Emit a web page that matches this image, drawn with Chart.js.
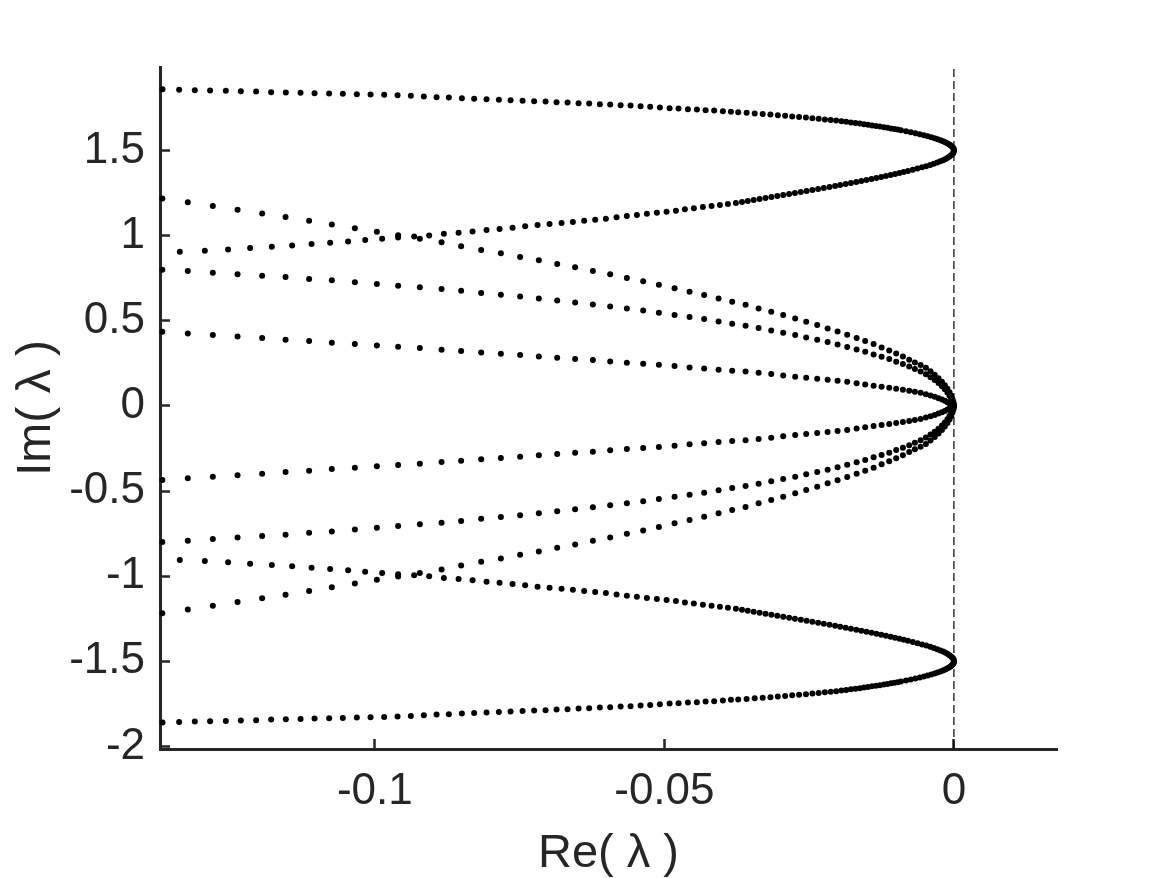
<!DOCTYPE html>
<html>
<head>
<meta charset="utf-8">
<script src="https://cdn.jsdelivr.net/npm/chart.js@4.4.1/dist/chart.umd.min.js"></script>
<style>
  html, body { margin: 0; padding: 0; background: #fff; }
  #wrap { width: 1169px; height: 878px; }
</style>
</head>
<body>
<div id="wrap"><canvas id="spectrum" width="1169" height="878"></canvas></div>
<script>
// axis limits and ticks
const xLimits = [-0.1371, 0.0178];
const yLimits = [-2.015, 1.99];
const xTicks = [-0.1, -0.05, 0];
const yTicks = [-2, -1.5, -1, -0.5, 0, 0.5, 1, 1.5];

// fan of three branches meeting at the origin (shared real parts)
const reFan = [
  -0.13670, -0.13230, -0.12798, -0.12371, -0.11946, -0.11542, -0.11135, -0.10743, -0.10345, -0.09965,
  -0.09598, -0.09223, -0.08848, -0.08510, -0.08164, -0.07824, -0.07491, -0.07168, -0.06851, -0.06541,
  -0.06235, -0.05936, -0.05648, -0.05366, -0.05095, -0.04824, -0.04565, -0.04313, -0.04064, -0.03829,
  -0.03598, -0.03373, -0.03155, -0.02948, -0.02741, -0.02551, -0.02361, -0.02181, -0.02009, -0.01843,
  -0.01680, -0.01532, -0.01387, -0.01249, -0.01117, -0.00997, -0.00881, -0.00772, -0.00674, -0.00575,
  -0.00484, -0.00404, -0.00332, -0.00266, -0.00207, -0.00157, -0.00112, -0.00076, -0.00047, -0.00024,
  -0.00009, -0.00002
];
const imFan1Up = [
  1.2176, 1.1959, 1.1735, 1.1512, 1.1294, 1.1088, 1.0865, 1.0647, 1.0429, 1.0218,
  1.0018, 0.9812, 0.9606, 0.9371, 0.9159, 0.8959, 0.8747, 0.8547, 0.8335, 0.8135,
  0.7924, 0.7724, 0.7512, 0.7312, 0.7118, 0.6900, 0.6706, 0.6512, 0.6312, 0.6118,
  0.5941, 0.5724, 0.5529, 0.5335, 0.5135, 0.4941, 0.4747, 0.4547, 0.4371, 0.4176,
  0.3982, 0.3806, 0.3629, 0.3429, 0.3253, 0.3076, 0.2900, 0.2706, 0.2547, 0.2394,
  0.2235, 0.2029, 0.1824, 0.1618, 0.1412, 0.1206, 0.1000, 0.0794, 0.0588, 0.0382,
  0.0206, 0.0059
];
const imFan2Up = [
  0.8000, 0.7924, 0.7824, 0.7724, 0.7647, 0.7571, 0.7453, 0.7371, 0.7253, 0.7159,
  0.7059, 0.6959, 0.6865, 0.6765, 0.6629, 0.6529, 0.6429, 0.6312, 0.6194, 0.6076,
  0.5959, 0.5841, 0.5724, 0.5606, 0.5471, 0.5335, 0.5218, 0.5100, 0.4959, 0.4824,
  0.4706, 0.4571, 0.4429, 0.4294, 0.4159, 0.4018, 0.3882, 0.3747, 0.3606, 0.3453,
  0.3312, 0.3176, 0.3018, 0.2882, 0.2747, 0.2588, 0.2453, 0.2312, 0.2165, 0.2012,
  0.1853, 0.1688, 0.1518, 0.1341, 0.1159, 0.0976, 0.0788, 0.0600, 0.0424, 0.0259,
  0.0129, 0.0029
];
const imFan3Up = [
  0.4353, 0.4253, 0.4159, 0.4076, 0.3982, 0.3882, 0.3806, 0.3706, 0.3629, 0.3547,
  0.3471, 0.3394, 0.3294, 0.3218, 0.3135, 0.3059, 0.2982, 0.2900, 0.2824, 0.2747,
  0.2688, 0.2606, 0.2529, 0.2471, 0.2412, 0.2335, 0.2253, 0.2194, 0.2118, 0.2059,
  0.2018, 0.1941, 0.1865, 0.1782, 0.1706, 0.1647, 0.1588, 0.1529, 0.1471, 0.1412,
  0.1335, 0.1253, 0.1176, 0.1118, 0.1059, 0.1000, 0.0941, 0.0882, 0.0824, 0.0765,
  0.0688, 0.0606, 0.0529, 0.0453, 0.0371, 0.0294, 0.0218, 0.0159, 0.0100, 0.0059,
  0.0024, 0.0006
];
const imFan1Down = [
  -1.2176, -1.1959, -1.1735, -1.1512, -1.1294, -1.1088, -1.0865, -1.0647, -1.0429, -1.0218,
  -1.0018, -0.9812, -0.9606, -0.9371, -0.9159, -0.8959, -0.8747, -0.8547, -0.8335, -0.8135,
  -0.7924, -0.7724, -0.7512, -0.7312, -0.7118, -0.6900, -0.6706, -0.6512, -0.6312, -0.6118,
  -0.5941, -0.5724, -0.5529, -0.5335, -0.5135, -0.4941, -0.4747, -0.4547, -0.4371, -0.4176,
  -0.3982, -0.3806, -0.3629, -0.3429, -0.3253, -0.3076, -0.2900, -0.2706, -0.2547, -0.2394,
  -0.2235, -0.2029, -0.1824, -0.1618, -0.1412, -0.1206, -0.1000, -0.0794, -0.0588, -0.0382,
  -0.0206, -0.0059
];
const imFan2Down = [
  -0.8000, -0.7924, -0.7824, -0.7724, -0.7647, -0.7571, -0.7453, -0.7371, -0.7253, -0.7159,
  -0.7059, -0.6959, -0.6865, -0.6765, -0.6629, -0.6529, -0.6429, -0.6312, -0.6194, -0.6076,
  -0.5959, -0.5841, -0.5724, -0.5606, -0.5471, -0.5335, -0.5218, -0.5100, -0.4959, -0.4824,
  -0.4706, -0.4571, -0.4429, -0.4294, -0.4159, -0.4018, -0.3882, -0.3747, -0.3606, -0.3453,
  -0.3312, -0.3176, -0.3018, -0.2882, -0.2747, -0.2588, -0.2453, -0.2312, -0.2165, -0.2012,
  -0.1853, -0.1688, -0.1518, -0.1341, -0.1159, -0.0976, -0.0788, -0.0600, -0.0424, -0.0259,
  -0.0129, -0.0029
];
const imFan3Down = [
  -0.4353, -0.4253, -0.4159, -0.4076, -0.3982, -0.3882, -0.3806, -0.3706, -0.3629, -0.3547,
  -0.3471, -0.3394, -0.3294, -0.3218, -0.3135, -0.3059, -0.2982, -0.2900, -0.2824, -0.2747,
  -0.2688, -0.2606, -0.2529, -0.2471, -0.2412, -0.2335, -0.2253, -0.2194, -0.2118, -0.2059,
  -0.2018, -0.1941, -0.1865, -0.1782, -0.1706, -0.1647, -0.1588, -0.1529, -0.1471, -0.1412,
  -0.1335, -0.1253, -0.1176, -0.1118, -0.1059, -0.1000, -0.0941, -0.0882, -0.0824, -0.0765,
  -0.0688, -0.0606, -0.0529, -0.0453, -0.0371, -0.0294, -0.0218, -0.0159, -0.0100, -0.0059,
  -0.0024, -0.0006
];

// loops around +/-1.5i: outer arm (|Im| > 1.5) and inner arm (|Im| < 1.5)
const reOuter = [
  -0.13667, -0.13380, -0.13109, -0.12845, -0.12573, -0.12314, -0.12050, -0.11791, -0.11537, -0.11283,
  -0.11041, -0.10789, -0.10553, -0.10311, -0.10074, -0.09839, -0.09608, -0.09378, -0.09154, -0.08934,
  -0.08722, -0.08497, -0.08285, -0.08071, -0.07858, -0.07656, -0.07449, -0.07249, -0.07052, -0.06862,
  -0.06672, -0.06482, -0.06299, -0.06114, -0.05936, -0.05756, -0.05584, -0.05411, -0.05245, -0.05078,
  -0.04910, -0.04755, -0.04594, -0.04439, -0.04288, -0.04140, -0.03990, -0.03851, -0.03725,
  -0.03580, -0.03440, -0.03302, -0.03169, -0.03041, -0.02915, -0.02793, -0.02674, -0.02556, -0.02444,
  -0.02335, -0.02228, -0.02128, -0.02033, -0.01943, -0.01860, -0.01779, -0.01701, -0.01625, -0.01553,
  -0.01484, -0.01415, -0.01345, -0.01278, -0.01209, -0.01147, -0.01086, -0.01028, -0.00971, -0.00915,
  -0.00827, -0.00744, -0.00665, -0.00589, -0.00518, -0.00453, -0.00392, -0.00333, -0.00282, -0.00233,
  -0.00190, -0.00150, -0.00116, -0.00086, -0.00060, -0.00040, -0.00022, -0.00010, -0.00003, 0.00000
];
const imOuterUp = [
  1.8600, 1.8559, 1.8541, 1.8518, 1.8500, 1.8482, 1.8459, 1.8424, 1.8400, 1.8382,
  1.8365, 1.8341, 1.8324, 1.8306, 1.8282, 1.8265, 1.8247, 1.8206, 1.8165, 1.8129,
  1.8106, 1.8071, 1.8029, 1.8012, 1.7971, 1.7953, 1.7912, 1.7894, 1.7871, 1.7835,
  1.7812, 1.7776, 1.7753, 1.7718, 1.7694, 1.7659, 1.7635, 1.7600, 1.7559, 1.7518,
  1.7482, 1.7459, 1.7424, 1.7400, 1.7365, 1.7341, 1.7306, 1.7265, 1.7247,
  1.7212, 1.7176, 1.7141, 1.7106, 1.7071, 1.7035, 1.7000, 1.6965, 1.6929, 1.6894,
  1.6859, 1.6824, 1.6788, 1.6753, 1.6718, 1.6682, 1.6647, 1.6612, 1.6576, 1.6541,
  1.6506, 1.6471, 1.6435, 1.6400, 1.6365, 1.6329, 1.6294, 1.6259, 1.6224, 1.6188,
  1.6129, 1.6071, 1.6012, 1.5953, 1.5894, 1.5835, 1.5776, 1.5718, 1.5659, 1.5600,
  1.5541, 1.5482, 1.5424, 1.5365, 1.5306, 1.5247, 1.5188, 1.5129, 1.5071, 1.5012
];
const imOuterDown = [
  -1.8600, -1.8559, -1.8541, -1.8518, -1.8500, -1.8482, -1.8459, -1.8424, -1.8400, -1.8382,
  -1.8365, -1.8341, -1.8324, -1.8306, -1.8282, -1.8265, -1.8247, -1.8206, -1.8165, -1.8129,
  -1.8106, -1.8071, -1.8029, -1.8012, -1.7971, -1.7953, -1.7912, -1.7894, -1.7871, -1.7835,
  -1.7812, -1.7776, -1.7753, -1.7718, -1.7694, -1.7659, -1.7635, -1.7600, -1.7559, -1.7518,
  -1.7482, -1.7459, -1.7424, -1.7400, -1.7365, -1.7341, -1.7306, -1.7265, -1.7247,
  -1.7212, -1.7176, -1.7141, -1.7106, -1.7071, -1.7035, -1.7000, -1.6965, -1.6929, -1.6894,
  -1.6859, -1.6824, -1.6788, -1.6753, -1.6718, -1.6682, -1.6647, -1.6612, -1.6576, -1.6541,
  -1.6506, -1.6471, -1.6435, -1.6400, -1.6365, -1.6329, -1.6294, -1.6259, -1.6224, -1.6188,
  -1.6129, -1.6071, -1.6012, -1.5953, -1.5894, -1.5835, -1.5776, -1.5718, -1.5659, -1.5600,
  -1.5541, -1.5482, -1.5424, -1.5365, -1.5306, -1.5247, -1.5188, -1.5129, -1.5071, -1.5012
];
const reInner = [
  -0.13368, -0.12936, -0.12534, -0.12154, -0.11779, -0.11428, -0.11093, -0.10772, -0.10461, -0.10167,
  -0.09874, -0.09598, -0.09321, -0.09062, -0.08808, -0.08554, -0.08313, -0.08071, -0.07846, -0.07622,
  -0.07404, -0.07190, -0.06983, -0.06776, -0.06580, -0.06385, -0.06195, -0.06010, -0.05826, -0.05648,
  -0.05475, -0.05302, -0.05130, -0.04962, -0.04801, -0.04646, -0.04491, -0.04335, -0.04185, -0.04041,
  -0.03903, -0.03765,
  -0.03660, -0.03560, -0.03458, -0.03356, -0.03254, -0.03152, -0.03050, -0.02948, -0.02846, -0.02746,
  -0.02644, -0.02544, -0.02444, -0.02345, -0.02247, -0.02149, -0.02052, -0.01964, -0.01870, -0.01779,
  -0.01687, -0.01599, -0.01511, -0.01423, -0.01339, -0.01256, -0.01174, -0.01093, -0.01016, -0.00940,
  -0.00867, -0.00794,
  -0.00710, -0.00629, -0.00551, -0.00478, -0.00409, -0.00347, -0.00288, -0.00235, -0.00187, -0.00145,
  -0.00107, -0.00076, -0.00048, -0.00028, -0.00012, -0.00003
];
const imInnerUp = [
  0.9047, 0.9106, 0.9188, 0.9265, 0.9341, 0.9424, 0.9500, 0.9576, 0.9659, 0.9735,
  0.9812, 0.9894, 0.9953, 1.0012, 1.0106, 1.0165, 1.0247, 1.0324, 1.0382, 1.0459,
  1.0541, 1.0618, 1.0676, 1.0735, 1.0794, 1.0871, 1.0929, 1.0988, 1.1071, 1.1147,
  1.1206, 1.1282, 1.1341, 1.1400, 1.1459, 1.1541, 1.1600, 1.1676, 1.1735, 1.1794,
  1.1853, 1.1912,
  1.1971, 1.2029, 1.2088, 1.2147, 1.2206, 1.2265, 1.2324, 1.2382, 1.2441, 1.2500,
  1.2559, 1.2618, 1.2676, 1.2735, 1.2794, 1.2853, 1.2912, 1.2971, 1.3029, 1.3088,
  1.3147, 1.3206, 1.3265, 1.3324, 1.3382, 1.3441, 1.3500, 1.3559, 1.3618, 1.3676,
  1.3735, 1.3794,
  1.3865, 1.3935, 1.4006, 1.4076, 1.4147, 1.4218, 1.4288, 1.4359, 1.4429, 1.4500,
  1.4571, 1.4641, 1.4712, 1.4782, 1.4853, 1.4924
];
const imInnerDown = [
  -0.9047, -0.9106, -0.9188, -0.9265, -0.9341, -0.9424, -0.9500, -0.9576, -0.9659, -0.9735,
  -0.9812, -0.9894, -0.9953, -1.0012, -1.0106, -1.0165, -1.0247, -1.0324, -1.0382, -1.0459,
  -1.0541, -1.0618, -1.0676, -1.0735, -1.0794, -1.0871, -1.0929, -1.0988, -1.1071, -1.1147,
  -1.1206, -1.1282, -1.1341, -1.1400, -1.1459, -1.1541, -1.1600, -1.1676, -1.1735, -1.1794,
  -1.1853, -1.1912,
  -1.1971, -1.2029, -1.2088, -1.2147, -1.2206, -1.2265, -1.2324, -1.2382, -1.2441, -1.2500,
  -1.2559, -1.2618, -1.2676, -1.2735, -1.2794, -1.2853, -1.2912, -1.2971, -1.3029, -1.3088,
  -1.3147, -1.3206, -1.3265, -1.3324, -1.3382, -1.3441, -1.3500, -1.3559, -1.3618, -1.3676,
  -1.3735, -1.3794,
  -1.3865, -1.3935, -1.4006, -1.4076, -1.4147, -1.4218, -1.4288, -1.4359, -1.4429, -1.4500,
  -1.4571, -1.4641, -1.4712, -1.4782, -1.4853, -1.4924
];

// dashed marker at Re = 0
const zeroLineRe = [0, 0];
const zeroLineIm = [yLimits[0], yLimits[1]];

const AXIS_COLOR = '#262626';
const FONT = "'Liberation Sans', Arial, Helvetica, sans-serif";

const pts = (re, im) => re.map((x, i) => ({ x: x, y: im[i] }));

const branches = [
  [reFan, imFan1Up], [reFan, imFan2Up], [reFan, imFan3Up],
  [reFan, imFan1Down], [reFan, imFan2Down], [reFan, imFan3Down],
  [reOuter, imOuterUp], [reOuter, imOuterDown],
  [reInner, imInnerUp], [reInner, imInnerDown]
];

const datasets = branches.map(([re, im]) => ({
  data: pts(re, im),
  showLine: false,
  pointRadius: 3,
  pointHoverRadius: 3,
  pointBackgroundColor: '#000',
  pointBorderWidth: 0,
  clip: false,
  order: 1
}));

datasets.push({
  data: pts(zeroLineRe, zeroLineIm),
  showLine: true,
  borderColor: '#000',
  borderWidth: 1.2,
  borderDash: [8, 4],
  pointRadius: 0,
  order: 2
});

new Chart(document.getElementById('spectrum'), {
  type: 'scatter',
  data: { datasets },
  options: {
    responsive: false,
    animation: false,
    devicePixelRatio: 1,
    layout: { padding: { top: 67, right: 112, bottom: 0, left: 0 } },
    plugins: { legend: { display: false }, tooltip: { enabled: false } },
    scales: {
      x: {
        type: 'linear',
        min: xLimits[0],
        max: xLimits[1],
        afterFit: s => { s.height = 129; },
        afterBuildTicks: s => { s.ticks = xTicks.map(v => ({ value: v })); },
        ticks: {
          callback: v => String(v),
          color: AXIS_COLOR,
          font: { family: FONT, size: 44 },
          padding: 26,
          maxRotation: 0,
          autoSkip: false
        },
        grid: { drawOnChartArea: false, drawTicks: true, tickLength: -10, tickWidth: 2.5, tickColor: AXIS_COLOR },
        border: { display: true, color: AXIS_COLOR, width: 3 },
        title: {
          display: true,
          text: 'Re( λ )',
          color: AXIS_COLOR,
          font: { family: FONT, size: 47, lineHeight: 1 },
          padding: { top: 0, bottom: 0 }
        }
      },
      y: {
        type: 'linear',
        min: yLimits[0],
        max: yLimits[1],
        afterFit: s => { s.width = 160; },
        afterBuildTicks: s => { s.ticks = yTicks.map(v => ({ value: v })); },
        ticks: {
          callback: v => String(v),
          color: AXIS_COLOR,
          font: { family: FONT, size: 44 },
          padding: 25,
          autoSkip: false
        },
        grid: { drawOnChartArea: false, drawTicks: true, tickLength: -10, tickWidth: 2.5, tickColor: AXIS_COLOR },
        border: { display: true, color: AXIS_COLOR, width: 3 },
        title: {
          display: true,
          text: 'Im( λ )',
          color: AXIS_COLOR,
          font: { family: FONT, size: 48, lineHeight: 1 },
          padding: { top: 13, bottom: 0 }
        }
      }
    }
  }
});
</script>
</body>
</html>
